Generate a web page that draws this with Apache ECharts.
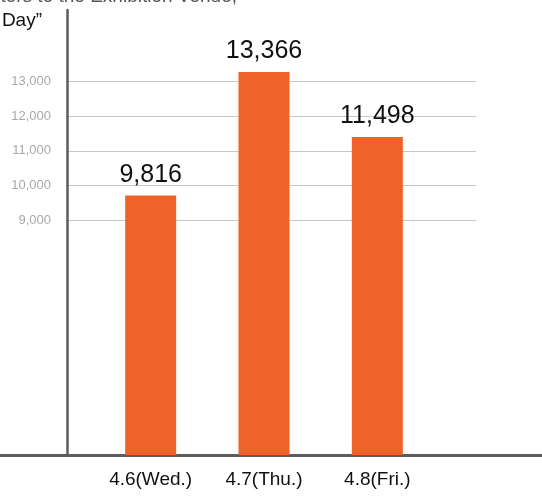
<!DOCTYPE html>
<html>
<head>
<meta charset="utf-8">
<script src="https://cdn.jsdelivr.net/npm/echarts@6/dist/echarts.min.js"></script>
<style>html,body{margin:0;padding:0;background:#fff;}#c{width:542px;height:496px;}</style>
</head>
<body>
<div id="c"></div>
<script>
var categories = ['4.6(Wed.)', '4.7(Thu.)', '4.8(Fri.)'];
var visitors = [9816, 13366, 11498];
var tickMin = 9000, tickMax = 13000, tickStep = 1000;
var titleLine1 = 'Number of Visitors to the Exhibition Venue,';
var titleLine2 = '\u201CVisitors in a Day\u201D';

var sans = "'Liberation Sans', Arial, sans-serif";
var chart = echarts.init(document.getElementById('c'));
chart.setOption({
  animation: false,
  backgroundColor: '#fff',
  title: [
    { text: titleLine1, right: 300, top: -18, textStyle: { fontFamily: sans, fontSize: 19, fontWeight: 'normal', color: '#555' } },
    { text: titleLine2, right: 495, top: 6, textStyle: { fontFamily: sans, fontSize: 19, fontWeight: 'normal', color: '#111' } }
  ],
  grid: [
    { left: 94, right: 108, top: 10, bottom: 41 },
    { left: 67, right: 66, top: 81.3, bottom: 275.7 },
    { left: 67, right: 66, top: 10, bottom: 41 },
    { left: 0, right: 0, top: 10, bottom: 41 }
  ],
  xAxis: [
    { gridIndex: 0, type: 'category', data: categories,
      axisLine: { show: false }, axisTick: { show: false },
      axisLabel: { margin: 15, fontFamily: sans, fontSize: 19, color: '#111' } },
    { gridIndex: 1, type: 'value', show: false, min: 0, max: 1 },
    { gridIndex: 2, type: 'value', show: false, min: 0, max: 1 },
    { gridIndex: 3, type: 'value', min: 0, max: 1,
      axisLine: { show: true, lineStyle: { color: '#5c5c5c', width: 3 } },
      axisTick: { show: false }, axisLabel: { show: false }, splitLine: { show: false } }
  ],
  yAxis: [
    { gridIndex: 0, type: 'value', min: 2350, max: 15150, show: false },
    { gridIndex: 1, type: 'value', min: tickMin, max: tickMax, interval: tickStep,
      axisLine: { show: false }, axisTick: { show: false },
      axisLabel: { margin: 16, fontFamily: sans, fontSize: 13, color: '#a8a8a8',
        formatter: function (v) { return v.toLocaleString('en-US'); } },
      splitLine: { show: true, lineStyle: { color: '#c6c6c6', width: 1 } } },
    { gridIndex: 2, type: 'value', min: 0, max: 1,
      axisLine: { show: true, lineStyle: { color: '#5c5c5c', width: 2.5 } },
      axisTick: { show: false }, axisLabel: { show: false }, splitLine: { show: false } },
    { gridIndex: 3, type: 'value', show: false, min: 0, max: 1 }
  ],
  series: [{
    type: 'bar',
    xAxisIndex: 0, yAxisIndex: 0,
    data: visitors,
    barWidth: 51,
    itemStyle: { color: '#F1622A' },
    label: {
      show: true, position: 'top', distance: 8,
      fontFamily: sans, fontSize: 25, color: '#111',
      formatter: function (p) { return p.value.toLocaleString('en-US'); }
    }
  }]
});
</script>
</body>
</html>
